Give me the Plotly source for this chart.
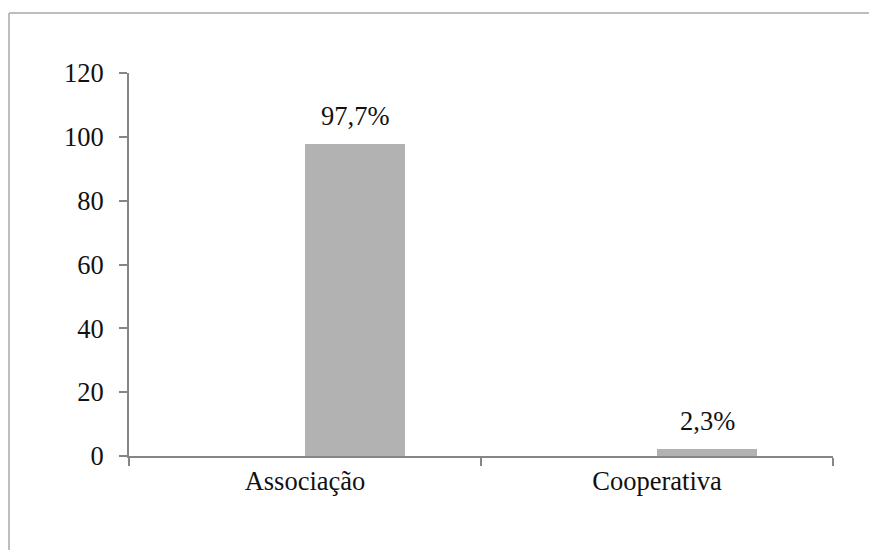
import plotly.graph_objects as go

categories = ["Associação", "Cooperativa"]
values = [97.7, 2.3]
labels = ["97,7%", "2,3%"]
y_ticks = [0, 20, 40, 60, 80, 100, 120]

BAR_W = 0.285
FONT = "Liberation Serif"
FS = 26.5
TXT = "#111111"
AXIS = "#868686"

fig = go.Figure()
fig.add_trace(go.Bar(
    x=categories, y=values, width=BAR_W, offset=0,
    marker=dict(color="#b2b2b2", line=dict(width=0)),
    hoverinfo="skip", showlegend=False,
))

for i, (v, t) in enumerate(zip(values, labels)):
    fig.add_annotation(x=i + BAR_W / 2, y=v, text=t, showarrow=False,
                       yanchor="bottom", xanchor="center", yshift=11,
                       font=dict(family=FONT, size=FS, color=TXT))

fig.update_layout(
    width=869, height=550,
    margin=dict(l=129, r=36, t=73, b=94),
    paper_bgcolor="white", plot_bgcolor="white",
    font=dict(family=FONT, size=FS, color=TXT),
    bargap=0,
    xaxis=dict(
        type="category", tickson="boundaries", ticks="outside", ticklen=8,
        tickwidth=2, tickcolor=AXIS, showline=True, linecolor=AXIS, linewidth=2,
        showgrid=False, zeroline=False, range=[-0.5, 1.5],
        tickfont=dict(family=FONT, size=FS, color=TXT),
    ),
    yaxis=dict(
        range=[0, 120], tickvals=y_ticks, ticks="outside", ticklen=8,
        tickwidth=2, tickcolor=AXIS, showline=True, linecolor=AXIS, linewidth=2,
        showgrid=False, zeroline=False, ticklabelstandoff=10,
        tickfont=dict(family=FONT, size=FS, color=TXT),
    ),
    shapes=[
        dict(type="line", xref="paper", yref="paper",
             x0=(9 - 129) / 704, x1=(869 - 129) / 704,
             y0=(456 - 13) / 383, y1=(456 - 13) / 383,
             line=dict(color="#bdbdbd", width=2), layer="below"),
        dict(type="line", xref="paper", yref="paper",
             x0=(9 - 129) / 704, x1=(9 - 129) / 704,
             y0=(456 - 13) / 383, y1=(456 - 550) / 383,
             line=dict(color="#bdbdbd", width=2), layer="below"),
    ],
)

fig.write_html("out.html")
